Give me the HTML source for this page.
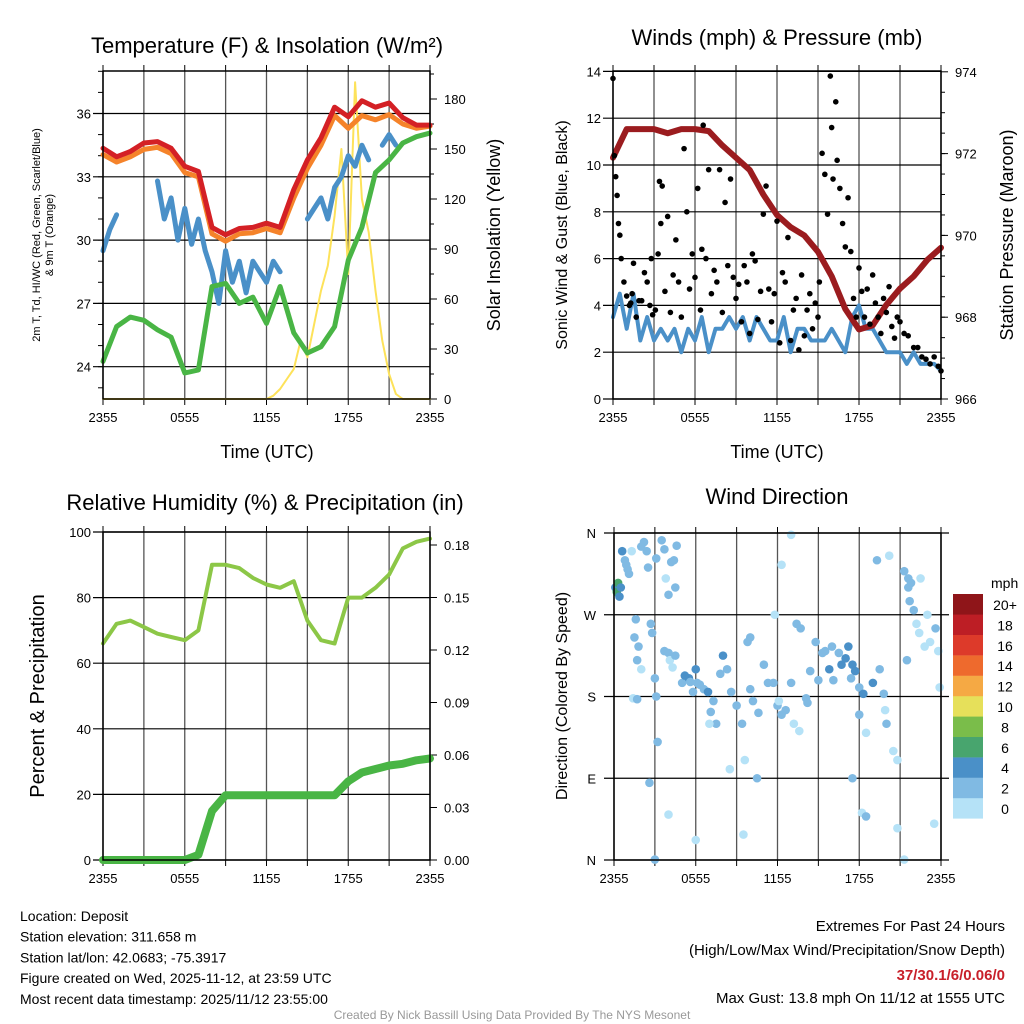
<!DOCTYPE html>
<html><head><meta charset="utf-8"><style>
body{margin:0;background:#fff;font-family:"Liberation Sans",sans-serif}
svg{display:block}
text{font-family:"Liberation Sans",sans-serif}
</style></head><body>
<svg id="s" width="1024" height="1024" viewBox="0 0 1024 1024"></svg>
<script>
// ---------- DATA ----------
const tempRed=[34.35,33.95,34.2,34.6,34.67,34.35,33.5,33.25,30.6,30.25,30.55,30.6,30.8,30.6,32.4,33.8,34.85,36.3,35.85,36.6,36.3,36.5,35.8,35.45,35.45];
const tempOrange=[34.05,33.7,33.95,34.3,34.4,34.1,33.2,33.0,30.3,29.95,30.3,30.35,30.55,30.35,32.0,33.4,34.5,35.9,35.3,35.9,35.7,35.95,35.5,35.3,35.4];
const dewGreen=[24.25,25.9,26.35,26.2,25.75,25.4,23.7,23.85,27.8,27.95,27.0,27.3,26.05,27.8,25.6,24.65,24.95,25.9,29.05,30.6,33.2,33.8,34.6,34.9,35.07];
const chillBlue=[29.5,30.5,31.2,null,null,null,null,null,32.8,31.0,32.0,30.0,31.5,29.8,31.0,29.5,28.5,27.0,29.5,28.0,29.0,27.5,29.0,28.5,28.0,29.0,28.5,null,null,null,31.0,31.5,32.0,31.0,32.5,33.0,34.0,33.5,34.5,33.8,null,34.5,35.0,34.5,null,35.0,null,null,null];
const solar=[0,0,0,0,0,0,0,0,0,0,0,0,0,0,0,0,0,0,0,0,0,0,0,0,0,2,6,12,18,35,25,45,65,80,110,150,75,190,120,100,65,35,15,3,0,0,0,0,0];
const sonic=[3.5,4.5,3,4.5,2.5,3.5,2.5,3,2.5,3,2,3,2.5,3.5,2,3,3,3.5,3,3.5,2.5,3.5,3,2.5,2.5,3.5,2,3,3,2.5,2.5,2.5,3,2.5,2,3.5,4,3,3,2.5,2,2,2,1.5,2,1.5,1.5,1.5,1.2];
const pressure=[971.9,972.6,972.6,972.6,972.5,972.6,972.6,972.55,972.2,971.9,971.6,971.0,970.5,970.2,970.0,969.6,969.0,968.2,967.7,967.8,968.3,968.7,969.0,969.4,969.7];
const gustT=[0,0.1,0.2,0.3,0.4,0.5,0.6,0.8,1.0,1.2,1.4,1.5,1.7,1.9,2.1,2.3,2.5,2.7,2.9,3.1,3.3,3.4,3.5,3.6,3.8,4.0,4.2,4.4,4.6,4.8,5.0,5.2,5.4,5.6,5.8,6.0,6.2,6.4,6.6,6.8,7.0,7.2,7.4,7.6,7.8,8.0,8.2,8.4,8.6,8.8,9.0,9.2,9.4,9.6,9.8,10.0,10.2,10.4,10.6,10.8,11.0,11.2,11.4,11.6,11.8,12.0,12.2,12.4,12.6,12.8,13.0,13.2,13.4,13.6,13.8,14.0,14.2,14.4,14.6,14.8,15.0,15.1,15.3,15.5,15.7,15.9,16.0,16.1,16.3,16.4,16.6,16.8,17.0,17.2,17.4,17.6,17.8,18.0,18.2,18.4,18.6,18.8,19.0,19.2,19.4,19.6,19.8,20.0,20.2,20.4,20.6,20.8,21.0,21.3,21.6,22.0,22.3,22.6,22.9,23.2,23.5,23.8,24,6.5,2.8,1.3];
const gustV=[13.7,10.4,9.5,8.7,7.5,7,6,5,4.4,4,4.5,5.8,3.5,4.2,4.2,5.4,5,4,3.6,3.8,6.2,9.3,7.5,9.1,4.6,7.8,3.7,5.3,6.8,5,3.5,10.7,8,4.7,6.2,5.2,9,3.8,11.7,6,9.8,4.5,5.5,5,9.8,3.7,8.4,5.7,9.4,5.2,4.3,4.9,3.3,5.7,5,2.8,6.2,5.9,3.4,4.6,7.9,9.1,4.7,3.3,4.5,7.6,2.4,5.4,5,6.9,2.5,3.8,4.3,2.1,5.3,2.7,3.8,4.5,3,4.1,3.5,5,10.5,9.6,7.9,13.8,11.6,9.4,12.7,10.2,9,7.5,6.5,8.6,6.3,4.3,3.5,5.6,4.6,3.5,4.7,3.2,5.3,4.1,3.5,2.8,4.3,3.7,4.8,3.1,2.6,3.5,3.3,2.8,2.7,2.2,2.2,1.8,1.7,1.5,1.8,1.4,1.2,6.4,6,4.1];
const rh=[66,72,73,71,69,68,67,70,90,90,89,86,84,83,85,73,67,66,80,80,83,87,95,97,98];
const precip=[0,0,0,0,0,0,0,0.003,0.028,0.037,0.037,0.037,0.037,0.037,0.037,0.037,0.037,0.037,0.045,0.050,0.052,0.054,0.055,0.057,0.058];
const dirT=[0.1,0.2,0.3,0.4,0.5,0.6,0.8,0.9,1.0,1.1,1.3,2.0,2.2,2.4,2.5,3.1,3.5,3.7,3.8,4.0,4.2,4.4,4.5,4.6,1.6,1.5,1.8,2.0,1.7,2.7,2.8,3.0,3.1,3.2,1.4,1.7,2.6,4.0,4.1,4.3,3.7,4.5,5.0,5.2,5.5,5.6,5.8,6.0,6.1,6.3,6.6,6.9,7.1,7.3,7.5,7.8,8.0,8.3,8.6,9.0,9.4,9.8,10.0,9.6,10.0,10.2,10.6,11.0,11.3,11.7,12.0,12.3,12.6,12.1,13.0,13.4,13.7,12.3,13.0,11.8,13.2,13.6,14.1,14.2,14.8,14.4,15.0,15.5,15.8,16.0,15.3,16.1,16.5,16.7,17.0,17.2,17.5,17.7,17.4,18.0,18.3,18.0,18.5,19.0,19.5,19.8,19.9,20.0,20.5,20.8,20.2,19.3,18.2,18.5,17.5,20.8,21.3,21.6,21.8,21.5,22.0,22.2,22.4,22.8,23.2,23.6,23.8,23.9,21.3,23.5,23.0,21.6,21.7,22.5,6.0,7.0,4.0,3.0,8.5,10.5,9.5];
const dirDeg=[300,295,305,290,300,340,330,325,320,315,340,345,350,340,322,332,352,342,310,292,328,330,300,346,265,245,235,210,220,260,250,200,180,130,178,177,85,228,220,212,230,225,195,203,200,196,185,210,195,193,188,185,163,175,150,205,225,210,185,170,150,240,245,110,188,175,162,215,195,195,170,160,165,175,195,260,255,325,358,270,150,142,178,173,240,208,198,230,210,235,228,198,228,215,222,235,215,208,200,190,183,160,140,195,210,183,165,150,120,110,335,330,52,48,90,35,318,310,305,220,275,260,250,235,240,255,230,190,0.5,40,270,300,285,310,22,150,50,0.5,100,90,28];
const dirSpd=[4,6,6,4,4,4,2,2,2,2,0,2,2,2,2,2,2,2,0,2,2,2,2,2,2,2,2,0,2,2,2,2,2,2,0,2,2,2,0,0,2,2,2,4,4,2,2,4,2,2,2,4,2,2,2,2,4,2,2,2,2,2,2,0,2,2,2,2,2,2,2,2,2,0,2,2,2,0,0,0,0,0,2,2,2,2,2,2,4,2,2,2,2,4,4,4,4,4,2,2,4,2,0,4,2,2,0,2,0,0,0,2,0,2,2,0,2,2,2,2,2,0,0,0,0,2,0,0,0,0,0,2,2,0,0,0,0,2,0,2,0];
const xTickLabels=["2355","0555","1155","1755","2355"];
const t1Left=[24,27,30,33,36];
const t1Right=[0,30,60,90,120,150,180];
const t2Left=[0,2,4,6,8,10,12,14];
const t2Right=[966,968,970,972,974];
const t3Left=[0,20,40,60,80,100];
const t3Right=["0.00","0.03","0.06","0.09","0.12","0.15","0.18"];
const dirLabels=["N","E","S","W","N"];
const cbLabels=["0","2","4","6","8","10","12","14","16","18","20+"];
const cbColors=["#b5e2f7","#80bae3","#4a90c8","#48a56e","#7abd4a","#e6e05a","#f5a944","#ee6a2d","#dd3a2a","#bd1e25","#8f1519"];

// ---------- HELPERS ----------
const S=document.getElementById('s');const NS="http://www.w3.org/2000/svg";
function mk(tag,at,txt,name,parent){const e=document.createElementNS(NS,tag);for(const k in at)e.setAttribute(k,at[k]);if(txt!=null)e.textContent=txt;


(parent||S).appendChild(e);return e;}
function panel(x0,x1,y0,y1,name){
  const g=mk('g',{},null,name);
  const xs=h=>x0+(x1-x0)*h/24;
  for(let h=0;h<=24;h+=3){mk('line',{x1:xs(h),x2:xs(h),y1:y0,y2:y1,stroke:'#555','stroke-width':1.3},null,'v-gridline',g);
    mk('line',{x1:xs(h),x2:xs(h),y1:y1,y2:y1+6,stroke:'#000'},null,'x-tick',g);
    mk('line',{x1:xs(h),x2:xs(h),y1:y0,y2:y0-6,stroke:'#000'},null,'x-tick-top',g);}
  xTickLabels.forEach((l,i)=>mk('text',{x:xs(i*6),y:y1+23,'font-size':13,'text-anchor':'middle'},l,'x-tick-label',g));
  return {g,xs};
}
function frame(x0,x1,y0,y1,g){mk('rect',{x:x0,y:y0,width:x1-x0,height:y1-y0,fill:'none',stroke:'#000','stroke-width':1.5},null,'plot-frame',g);}
function hline(y,x0,x1,g){mk('line',{x1:x0,x2:x1,y1:y,y2:y,stroke:'#000','stroke-width':1.2},null,'h-gridline',g);}
function path(arr,xs,ys,col,w,name,g,cap){let d='',pen=false;arr.forEach((v,i)=>{if(v==null){pen=false;return;}const x=xs(i*24/(arr.length-1)),y=ys(v);d+=(pen?'L':'M')+x.toFixed(1)+' '+y.toFixed(1);pen=true;});
  mk('path',{d,fill:'none',stroke:col,'stroke-width':w,'stroke-linejoin':'round','stroke-linecap':cap||'round'},null,name,g);}

// ---------- PANEL 1 ----------
{const X0=103,X1=430,Y0=71,Y1=399;const {g,xs}=panel(X0,X1,Y0,Y1,'temperature-panel');
 const yl=v=>113.5+(36-v)*21.1, yr=v=>399-v*300/180;
 t1Left.forEach(v=>{hline(yl(v),X0-10,X1,g);mk('text',{x:X0-12,y:yl(v)+5,'font-size':13,'text-anchor':'end'},v,'left-tick-label',g);});
 for(let v=23;v<=38;v++)mk('line',{x1:X0-5,x2:X0,y1:yl(v),y2:yl(v),stroke:'#000'},null,'minor-tick',g);
 t1Right.forEach(v=>{mk('line',{x1:X1,x2:X1+7,y1:yr(v),y2:yr(v),stroke:'#000'},null,'right-tick',g);mk('text',{x:X1+14,y:yr(v)+5,'font-size':13},v,'right-tick-label',g);});
 for(let v=15;v<=195;v+=30)mk('line',{x1:X1,x2:X1+4,y1:yr(v),y2:yr(v),stroke:'#000'},null,'minor-tick',g);
 path(solar,xs,yr,'#fde25a',2,'solar-line',g);
 path(chillBlue,xs,yl,'#4a90c8',5,'windchill-line',g);
 path(dewGreen,xs,yl,'#49b545',5,'dewpoint-line',g);
 path(tempOrange,xs,yl,'#f5832a',5,'temp9m-line',g);
 path(tempRed,xs,yl,'#d42025',5,'temp2m-line',g);
 frame(X0,X1,Y0,Y1,g);
 mk('text',{x:267,y:53,'font-size':22,'text-anchor':'middle'},'Temperature (F) & Insolation (W/m²)','chart-title',g);
 mk('text',{x:267,y:458,'font-size':18,'text-anchor':'middle'},'Time (UTC)','x-axis-title',g);
 mk('text',{transform:'translate(40,235) rotate(-90)','font-size':11,'text-anchor':'middle'},'2m T, Td, HI/WC (Red, Green, Scarlet/Blue)','y-axis-title-left',g);
 mk('text',{transform:'translate(53,235) rotate(-90)','font-size':11,'text-anchor':'middle'},'& 9m T (Orange)','y-axis-title-left-2',g);
 mk('text',{transform:'translate(500,235) rotate(-90)','font-size':18,'text-anchor':'middle'},'Solar Insolation (Yellow)','y-axis-title-right',g);
}
// ---------- PANEL 2 ----------
{const X0=613,X1=941,Y0=71,Y1=399;const {g,xs}=panel(X0,X1,Y0,Y1,'winds-panel');
 const yl=v=>399-v*23.4, yr=v=>399-(v-966)*40.9;
 t2Left.forEach(v=>{hline(yl(v),X0-10,X1,g);mk('text',{x:X0-12,y:yl(v)+5,'font-size':13,'text-anchor':'end'},v,'left-tick-label',g);});
 t2Right.forEach(v=>{mk('line',{x1:X1,x2:X1+7,y1:yr(v),y2:yr(v),stroke:'#000'},null,'right-tick',g);mk('text',{x:X1+14,y:yr(v)+5,'font-size':13},v,'right-tick-label',g);});
 for(let v=966.5;v<974;v+=0.5)mk('line',{x1:X1,x2:X1+4,y1:yr(v),y2:yr(v),stroke:'#000'},null,'minor-tick',g);
 path(sonic,xs,yl,'#4a90c8',4,'sonic-wind-line',g);
 path(pressure,xs,yr,'#9b1c1f',6,'pressure-line',g);
 gustT.forEach((t,i)=>mk('circle',{cx:xs(t),cy:yl(gustV[i]),r:2.8,fill:'#000'},null,'gust-point',g));
 frame(X0,X1,Y0,Y1,g);
 mk('text',{x:777,y:45,'font-size':22,'text-anchor':'middle'},'Winds (mph) & Pressure (mb)','chart-title',g);
 mk('text',{x:777,y:458,'font-size':18,'text-anchor':'middle'},'Time (UTC)','x-axis-title',g);
 mk('text',{transform:'translate(567,235) rotate(-90)','font-size':16,'text-anchor':'middle'},'Sonic Wind & Gust (Blue, Black)','y-axis-title-left',g);
 mk('text',{transform:'translate(1013,235) rotate(-90)','font-size':18,'text-anchor':'middle'},'Station Pressure (Maroon)','y-axis-title-right',g);
}
// ---------- PANEL 3 ----------
{const X0=103,X1=430,Y0=532,Y1=860;const {g,xs}=panel(X0,X1,Y0,Y1,'humidity-panel');
 const yl=v=>860-v*3.28, yr=v=>860-v*315/0.18;
 t3Left.forEach(v=>{hline(yl(v),X0-10,X1,g);mk('text',{x:X0-12,y:yl(v)+5,'font-size':13,'text-anchor':'end'},v,'left-tick-label',g);});
 t3Right.forEach(v=>{mk('line',{x1:X1,x2:X1+7,y1:yr(+v),y2:yr(+v),stroke:'#000'},null,'right-tick',g);mk('text',{x:X1+14,y:yr(+v)+5,'font-size':13},v,'right-tick-label',g);});
 path(rh,xs,yl,'#8cc747',4,'rh-line',g);
 path(precip,xs,yr,'#49b545',8,'precip-line',g);
 frame(X0,X1,Y0,Y1,g);
 mk('text',{x:265,y:510,'font-size':22,'text-anchor':'middle'},'Relative Humidity (%) & Precipitation (in)','chart-title',g);
 mk('text',{transform:'translate(44,696) rotate(-90)','font-size':20,'text-anchor':'middle'},'Percent & Precipitation','y-axis-title',g);
}
// ---------- PANEL 4 ----------
{const X0=614,X1=941,Y0=533,Y1=860;const {g,xs}=panel(X0,X1,Y0,Y1,'wind-direction-panel');
 const yd=v=>860-v*327/360;
 dirLabels.forEach((l,i)=>{hline(yd(i*90),X0-10,X1+8,g);mk('text',{x:X0-18,y:yd(i*90)+5,'font-size':13,'text-anchor':'end'},l,'direction-tick-label',g);});
 dirT.forEach((t,i)=>{const c=cbColors[Math.min(10,Math.floor(dirSpd[i]/2))];
   mk('circle',{cx:xs(t),cy:yd(dirDeg[i]),r:4.3,fill:c},null,'direction-point',g);});
 frame(X0,X1,Y0,Y1,g);
 mk('text',{x:777,y:504,'font-size':22,'text-anchor':'middle'},'Wind Direction','chart-title',g);
 mk('text',{transform:'translate(567,696) rotate(-90)','font-size':16,'text-anchor':'middle'},'Direction (Colored By Speed)','y-axis-title',g);
 const cb=mk('g',{},null,'speed-colorbar');
 mk('text',{x:991,y:588,'font-size':14},'mph','colorbar-title',cb);
 cbColors.forEach((c,i)=>{const y=798-i*20.4;mk('rect',{x:953,y:y,width:30,height:20.6,fill:c},null,'colorbar-swatch',cb);
   mk('text',{x:1005,y:y+16,'font-size':14,'text-anchor':'middle'},cbLabels[i],'colorbar-label',cb);});
}
// ---------- FOOTER TEXT ----------
const info=["Location: Deposit","Station elevation: 311.658 m","Station lat/lon: 42.0683; -75.3917","Figure created on Wed, 2025-11-12, at 23:59 UTC","Most recent data timestamp: 2025/11/12 23:55:00"];
info.forEach((l,i)=>mk('text',{x:20,y:921+i*20.7,'font-size':14},l,'station-info-line'));
mk('text',{x:1005,y:931,'font-size':15,'text-anchor':'end'},'Extremes For Past 24 Hours','extremes-title');
mk('text',{x:1005,y:955,'font-size':15,'text-anchor':'end'},'(High/Low/Max Wind/Precipitation/Snow Depth)','extremes-subtitle');
mk('text',{x:1005,y:980,'font-size':15,'text-anchor':'end','font-weight':'bold',fill:'#c8202a'},'37/30.1/6/0.06/0','extremes-values');
mk('text',{x:1005,y:1003,'font-size':15,'text-anchor':'end'},'Max Gust: 13.8 mph On 11/12 at 1555 UTC','max-gust');
mk('text',{x:512,y:1019,'font-size':12,'text-anchor':'middle',fill:'#999'},'Created By Nick Bassill Using Data Provided By The NYS Mesonet','credit');
</script>
</body></html>
